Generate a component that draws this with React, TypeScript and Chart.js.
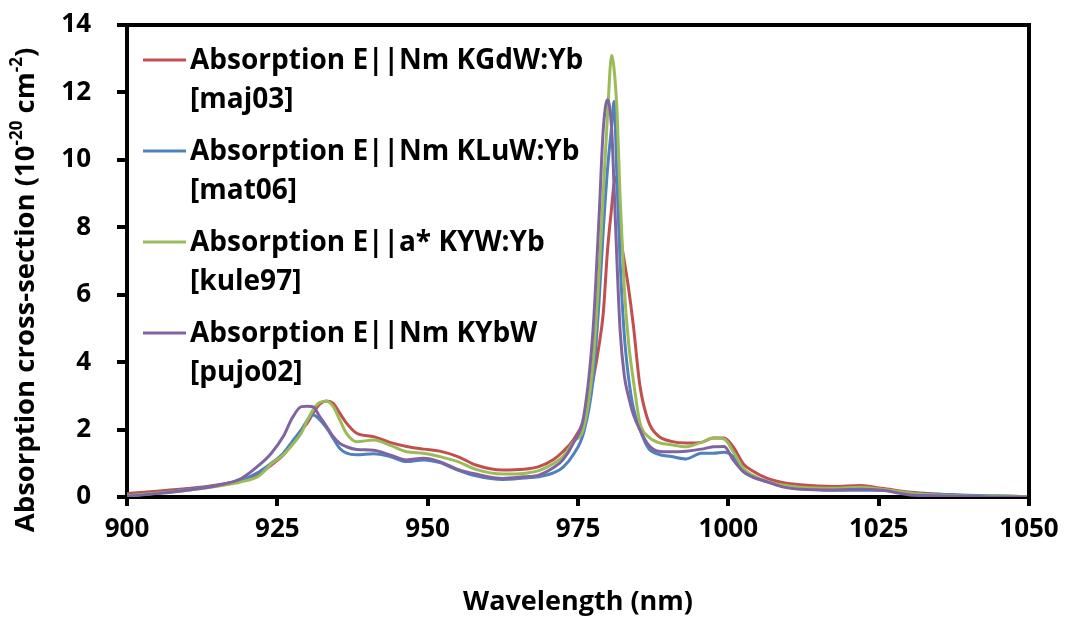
import React, { useEffect, useRef } from "react";
import { Chart, registerables } from "chart.js";

Chart.register(...registerables);

const wavelengths = [900, 905, 910, 915, 919, 922, 924, 926, 927.5, 929, 930, 931, 932, 933.2, 934.3, 935.4, 936.5, 938.2, 941, 943.7, 946.5, 949.3, 952, 955, 958, 962.5, 966, 968.5, 971, 972.5, 974.2, 976, 977.5, 978.5, 979.2, 979.9, 980.6, 981, 981.5, 982, 982.7, 983.4, 984.2, 985.3, 986.7, 988.3, 990.5, 993, 995.5, 997.5, 999.3, 1000.8, 1002.5, 1004, 1006.5, 1009, 1012, 1017.5, 1022, 1025.5, 1031, 1040, 1046, 1050];

const kgdwMaj03 = [0.1, 0.17, 0.25, 0.36, 0.5, 0.68, 0.95, 1.25, 1.6, 1.98, 2.2, 2.5, 2.75, 2.85, 2.78, 2.48, 2.19, 1.89, 1.79, 1.62, 1.5, 1.42, 1.36, 1.2, 0.95, 0.8, 0.82, 0.9, 1.12, 1.35, 1.69, 2.3, 3.47, 4.5, 5.45, 7.3, 8.6, 9.3, 9.5, 7.9, 7.0, 6.2, 5.1, 3.3, 2.25, 1.82, 1.65, 1.6, 1.62, 1.75, 1.75, 1.49, 0.98, 0.78, 0.55, 0.43, 0.36, 0.31, 0.34, 0.26, 0.13, 0.04, 0.02, 0.01];

const kluwMat06 = [0.05, 0.12, 0.22, 0.34, 0.5, 0.75, 1.0, 1.3, 1.65, 2.0, 2.28, 2.43, 2.3, 2.04, 1.74, 1.44, 1.3, 1.25, 1.28, 1.2, 1.05, 1.1, 1.02, 0.8, 0.63, 0.52, 0.56, 0.6, 0.72, 0.88, 1.25, 1.95, 3.47, 5.8, 7.9, 9.7, 11.0, 11.73, 9.3, 7.0, 4.8, 3.55, 2.65, 2.0, 1.45, 1.27, 1.2, 1.13, 1.3, 1.3, 1.33, 1.2, 0.75, 0.6, 0.45, 0.33, 0.26, 0.2, 0.2, 0.2, 0.11, 0.05, 0.03, 0.01];

const kywKule97 = [0.04, 0.11, 0.2, 0.32, 0.45, 0.63, 0.98, 1.25, 1.55, 1.9, 2.28, 2.6, 2.8, 2.84, 2.68, 2.28, 1.89, 1.64, 1.69, 1.54, 1.34, 1.3, 1.2, 1.05, 0.82, 0.68, 0.7, 0.78, 1.0, 1.2, 1.63, 2.1, 3.96, 6.6, 9.0, 11.3, 13.1, 12.7, 11.4, 8.9, 6.2, 4.6, 3.47, 2.2, 1.79, 1.62, 1.55, 1.49, 1.62, 1.75, 1.72, 1.35, 0.85, 0.65, 0.45, 0.36, 0.29, 0.26, 0.29, 0.23, 0.1, 0.03, 0.02, 0.01];

const kybwPujo02 = [0.02, 0.1, 0.2, 0.34, 0.55, 0.95, 1.3, 1.8, 2.35, 2.68, 2.69, 2.67, 2.4, 2.09, 1.79, 1.59, 1.49, 1.41, 1.39, 1.25, 1.1, 1.15, 1.05, 0.82, 0.68, 0.55, 0.6, 0.65, 0.88, 1.1, 1.59, 2.45, 4.95, 8.3, 10.9, 11.78, 10.9, 9.2, 6.9, 4.95, 3.6, 2.98, 2.45, 1.99, 1.55, 1.36, 1.34, 1.36, 1.42, 1.49, 1.5, 1.1, 0.75, 0.6, 0.45, 0.3, 0.23, 0.21, 0.23, 0.2, 0.05, 0.02, 0.0, 0.0];

const seriesLabels = [
  ["Absorption E||Nm KGdW:Yb", "[maj03]"],
  ["Absorption E||Nm KLuW:Yb", "[mat06]"],
  ["Absorption E||a* KYW:Yb", "[kule97]"],
  ["Absorption E||Nm KYbW", "[pujo02]"],
];
const seriesColors = ["#C0504D", "#4F81BD", "#9BBB59", "#8064A2"];
const seriesValues = [kgdwMaj03, kluwMat06, kywKule97, kybwPujo02];

const xTitle = "Wavelength (nm)";
const yTitleParts = [
  { t: "Absorption cross-section (10", sup: false },
  { t: "-20", sup: true },
  { t: " cm", sup: false },
  { t: "-2", sup: true },
  { t: ")", sup: false },
];

const FONT = "'Open Sans', 'DejaVu Sans', sans-serif";

const framePlugin = {
  id: "frame",
  afterDatasetsDraw(chart: any) {
    const { ctx, chartArea } = chart;
    ctx.save();
    ctx.strokeStyle = "#000";
    ctx.lineWidth = 4;
    ctx.beginPath();
    ctx.moveTo(chartArea.left, chartArea.top);
    ctx.lineTo(chartArea.right, chartArea.top);
    ctx.lineTo(chartArea.right, chartArea.bottom);
    ctx.stroke();
    ctx.restore();
  },
};

const legendPlugin = {
  id: "customLegend",
  afterDraw(chart: any) {
    const { ctx } = chart;
    ctx.save();
    ctx.font = `bold 28px ${FONT}`;
    ctx.textBaseline = "middle";
    ctx.fillStyle = "#000";
    seriesLabels.forEach((lines, i) => {
      const y0 = 60 + i * 91;
      ctx.strokeStyle = seriesColors[i];
      ctx.lineWidth = 3;
      ctx.beginPath();
      ctx.moveTo(143, y0);
      ctx.lineTo(186, y0);
      ctx.stroke();
      lines.forEach((ln, j) => {
        ctx.fillText(ln, 190, y0 + 1 + j * 39);
      });
    });
    ctx.restore();
  },
};

const yTitlePlugin = {
  id: "yTitle",
  afterDraw(chart: any) {
    const { ctx } = chart;
    ctx.save();
    ctx.translate(26, 290);
    ctx.rotate(-Math.PI / 2);
    ctx.fillStyle = "#000";
    ctx.textBaseline = "middle";
    const big = `bold 27.5px ${FONT}`;
    const small = `bold 17px ${FONT}`;
    let total = 0;
    yTitleParts.forEach((p) => {
      ctx.font = p.sup ? small : big;
      total += ctx.measureText(p.t).width;
    });
    let x = -total / 2;
    yTitleParts.forEach((p) => {
      ctx.font = p.sup ? small : big;
      ctx.fillText(p.t, x, p.sup ? -9 : 0);
      x += ctx.measureText(p.t).width;
    });
    ctx.restore();
  },
};

export default function App() {
  const ref = useRef<HTMLCanvasElement>(null);
  useEffect(() => {
    document.body.style.margin = "0";
    const chart = new Chart(ref.current!, {
      type: "line",
      data: {
        datasets: seriesValues.map((vals, i) => ({
          label: seriesLabels[i].join(" "),
          data: wavelengths.map((w, k) => ({ x: w, y: vals[k] })),
          borderColor: seriesColors[i],
          backgroundColor: seriesColors[i],
          borderWidth: 3,
          pointRadius: 0,
          order: seriesValues.length - i,
          cubicInterpolationMode: "monotone" as const,
          fill: false,
        })),
      },
      options: {
        animation: false,
        responsive: false,
        devicePixelRatio: 1,
        layout: { padding: { left: 0, top: 25, right: 41, bottom: 0 } },
        plugins: { legend: { display: false }, tooltip: { enabled: false } },
        scales: {
          x: {
            type: "linear",
            min: 900,
            max: 1050,
            afterFit: (s: any) => {
              s.height = 122;
              s.paddingLeft = 0;
              s.paddingRight = 0;
            },
            ticks: {
              stepSize: 25,
              autoSkip: false,
              maxRotation: 0,
              padding: 8,
              color: "#000",
              font: { family: FONT, size: 26, weight: "bold" },
              callback: (v: any) => String(v),
            },
            grid: { drawOnChartArea: false, drawTicks: true, tickLength: 9, lineWidth: 4, color: "#000" },
            border: { display: true, width: 4, color: "#000" },
            title: {
              display: true,
              text: xTitle,
              color: "#000",
              padding: 0,
              font: { family: FONT, size: 27, weight: "bold" },
            },
          },
          y: {
            min: 0,
            max: 14,
            afterFit: (s: any) => {
              s.width = 127;
              s.paddingTop = 0;
              s.paddingBottom = 0;
            },
            ticks: {
              stepSize: 2,
              padding: 26,
              color: "#000",
              font: { family: FONT, size: 26, weight: "bold" },
            },
            grid: { drawOnChartArea: false, drawTicks: true, tickLength: 10, lineWidth: 4, color: "#000" },
            border: { display: true, width: 4, color: "#000" },
          },
        },
      },
      plugins: [framePlugin, legendPlugin, yTitlePlugin],
    });
    return () => chart.destroy();
  }, []);
  return (
    <canvas
      ref={ref}
      width={1070}
      height={619}
      style={{ position: "absolute", left: 0, top: 0, width: 1070, height: 619 }}
    />
  );
}
